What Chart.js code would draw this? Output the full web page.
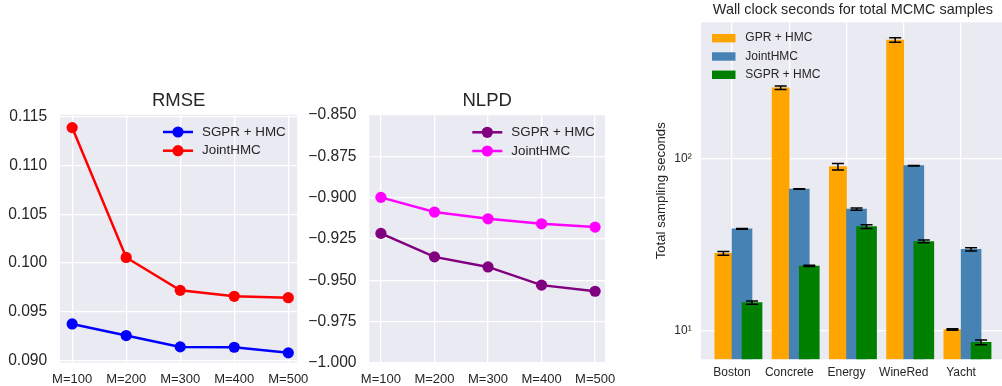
<!DOCTYPE html>
<html>
<head>
<meta charset="utf-8">
<script src="https://cdn.jsdelivr.net/npm/chart.js@4/dist/chart.umd.min.js"></script>
<style>
  body { margin: 0; background: #fff; overflow: hidden; width: 1002px; height: 386px; position: relative; }
  canvas { position: absolute; }
</style>
</head>
<body>
<canvas id="rmse" width="320" height="306" style="left:0;top:80px"></canvas>
<canvas id="nlpd" width="320" height="306" style="left:305px;top:80px"></canvas>
<canvas id="wall" width="370" height="386" style="left:640px;top:0"></canvas>
<script>
// inducing points
const mLabels = ['M=100', 'M=200', 'M=300', 'M=400', 'M=500'];

const rmseSgpr = [0.09377, 0.09258, 0.09142, 0.09138, 0.09081];
const rmseJoint = [0.11388, 0.10058, 0.09721, 0.09660, 0.09646];
const rmseTicks = [0.090, 0.095, 0.100, 0.105, 0.110, 0.115];

const nlpdSgpr = [-0.9216, -0.9358, -0.9419, -0.9529, -0.9566];
const nlpdJoint = [-0.8998, -0.9087, -0.9128, -0.9158, -0.9178];
const nlpdTicks = [-1.000, -0.975, -0.950, -0.925, -0.900, -0.875, -0.850];

// wall clock
const datasetNames = ['Boston', 'Concrete', 'Energy', 'WineRed', 'Yacht'];
const gprSecs = [28.2, 256, 89.4, 484, 10.2];
const gprErr = [0.7, 6, 3.8, 15, 0.1];
const jointSecs = [39.0, 66.4, 50.8, 90.6, 29.7];
const jointErr = [0.2, 0.3, 0.8, 0.3, 0.65];
const sgprSecs = [14.6, 23.8, 40.2, 33.0, 8.6];
const sgprErr = [0.3, 0.2, 1.0, 0.6, 0.26];
const logTicks = [10, 100];

const FONT = "'Liberation Sans', Arial, sans-serif";
const INK = '#262626';

const axesBg = {
    id: 'axesBg',
    beforeDraw(chart) {
        const { ctx, chartArea: a } = chart;
        ctx.save();
        ctx.fillStyle = '#eaeaf2';
        ctx.fillRect(a.left, a.top, a.right - a.left, a.bottom - a.top);
        ctx.restore();
    }
};

// legend drawn inside the axes, like matplotlib does
const insideLegend = {
    id: 'insideLegend',
    afterDraw(chart, args, opts) {
        const { ctx, chartArea: a } = chart;
        ctx.save();
        ctx.font = opts.size + 'px ' + FONT;
        ctx.textBaseline = 'middle';
        chart.data.datasets.forEach((ds, i) => {
            const x = a.left + opts.x;
            const y = a.top + opts.y + i * opts.gap;
            if (opts.kind === 'line') {
                ctx.strokeStyle = ds.borderColor;
                ctx.lineWidth = ds.borderWidth;
                ctx.beginPath();
                ctx.moveTo(x, y);
                ctx.lineTo(x + opts.w, y);
                ctx.stroke();
                ctx.fillStyle = ds.borderColor;
                ctx.beginPath();
                ctx.arc(x + opts.w / 2, y, ds.pointRadius, 0, Math.PI * 2);
                ctx.fill();
            } else {
                ctx.fillStyle = ds.backgroundColor;
                ctx.fillRect(x, y - opts.h / 2, opts.w, opts.h);
            }
            ctx.fillStyle = INK;
            ctx.fillText(ds.label, x + opts.textX, y);
        });
        ctx.restore();
    }
};

const errorBars = {
    id: 'errorBars',
    afterDatasetDraw(chart, args) {
        const ds = chart.data.datasets[args.index];
        if (!ds.errors) return;
        const yScale = chart.scales.y;
        const ctx = chart.ctx;
        ctx.save();
        ctx.strokeStyle = '#000';
        ctx.lineWidth = 1.5;
        args.meta.data.forEach((bar, j) => {
            const v = ds.data[j].y;
            const e = ds.errors[j];
            const top = yScale.getPixelForValue(v + e);
            const bot = yScale.getPixelForValue(v - e);
            ctx.beginPath();
            ctx.moveTo(bar.x, top); ctx.lineTo(bar.x, bot);
            ctx.moveTo(bar.x - 6, top); ctx.lineTo(bar.x + 6, top);
            ctx.moveTo(bar.x - 6, bot); ctx.lineTo(bar.x + 6, bot);
            ctx.stroke();
        });
        ctx.restore();
    }
};

function toPoints(arr) {
    return arr.map((v, i) => ({ x: i, y: v }));
}

function lineChart(id, title, series, ticks, fmt, xr, yr, yWidth, top) {
    return new Chart(document.getElementById(id), {
        type: 'line',
        data: {
            datasets: series.map(s => ({
                label: s.label,
                data: toPoints(s.values),
                borderColor: s.color,
                backgroundColor: s.color,
                pointBackgroundColor: s.color,
                pointBorderWidth: 0,
                pointRadius: 5.6,
                borderWidth: 2.5,
                tension: 0
            }))
        },
        options: {
            responsive: false,
            animation: false,
            events: [],
            layout: { padding: { left: 0, right: 320 - yWidth - 237.2, top: 0, bottom: 0 } },
            plugins: {
                legend: { display: false },
                tooltip: { enabled: false },
                title: {
                    display: true, text: title, color: INK, fullSize: false,
                    font: { family: FONT, size: 18.5, weight: 'normal' },
                    padding: { top: 9.4, bottom: top - 9.4 - 22.2 }
                },
                insideLegend: { kind: 'line', x: 103, y: 17.3, gap: 18.7, w: 30, textX: 39, size: 13.4 }
            },
            scales: {
                x: {
                    type: 'linear', min: xr[0], max: xr[1],
                    afterBuildTicks: s => { s.ticks = mLabels.map((_, i) => ({ value: i })); },
                    ticks: { callback: v => mLabels[v], color: INK, font: { family: FONT, size: 13 }, padding: 9, maxRotation: 0, autoSkip: false },
                    grid: { color: '#ffffff', lineWidth: 1.3, drawTicks: false },
                    border: { display: false },
                    afterFit: s => { s.height = 306 - top - 248; }
                },
                y: {
                    type: 'linear', min: yr[0], max: yr[1],
                    afterBuildTicks: s => { s.ticks = ticks.map(v => ({ value: v })); },
                    ticks: { callback: fmt, color: INK, font: { family: FONT, size: 15.6 }, padding: 12.8 },
                    grid: { color: '#ffffff', lineWidth: 1.3, drawTicks: false },
                    border: { display: false },
                    afterFit: s => { s.width = yWidth; }
                }
            }
        },
        plugins: [axesBg, insideLegend]
    });
}

lineChart('rmse', 'RMSE', [
    { label: 'SGPR + HMC', values: rmseSgpr, color: '#0000ff' },
    { label: 'JointHMC', values: rmseJoint, color: '#ff0000' }
], rmseTicks, v => v.toFixed(3), [-0.225, 4.165], [0.0898, 0.1152], 60, 34.7);

lineChart('nlpd', 'NLPD', [
    { label: 'SGPR + HMC', values: nlpdSgpr, color: '#800080' },
    { label: 'JointHMC', values: nlpdJoint, color: '#ff00ff' }
], nlpdTicks, v => (v < 0 ? '\u2212' : '') + Math.abs(v).toFixed(3), [-0.217, 4.186], [-1.0, -0.85], 64.3, 35);

const sup = { 0: '\u2070', 1: '\u00b9', 2: '\u00b2', 3: '\u00b3' };

function barSet(label, values, errs, color, shift, width, order) {
    return {
        label: label,
        data: values.map((v, i) => ({ x: i + shift, y: v })),
        errors: errs,
        backgroundColor: color,
        borderWidth: 0,
        barThickness: width,
        grouped: false,
        order: order
    };
}

new Chart(document.getElementById('wall'), {
    type: 'bar',
    data: {
        datasets: [
            barSet('GPR + HMC', gprSecs, gprErr, '#ffa500', -0.15, 17.2, 3),
            barSet('JointHMC', jointSecs, jointErr, '#4682b4', 0.175, 20, 2),
            barSet('SGPR + HMC', sgprSecs, sgprErr, '#008000', 0.35, 20, 1)
        ]
    },
    options: {
        responsive: false,
        animation: false,
        events: [],
        layout: { padding: { left: 0, right: 5.1, top: 0, bottom: 0 } },
        plugins: {
            legend: { display: false },
            tooltip: { enabled: false },
            title: {
                display: true, text: 'Wall clock seconds for total MCMC samples', color: INK, fullSize: false,
                font: { family: FONT, size: 14.4, weight: 'normal' },
                padding: { top: 0.9, bottom: 4.1 }
            },
            insideLegend: { kind: 'box', x: 11, y: 15.9, gap: 18.3, w: 23.5, h: 8.4, textX: 33.3, size: 12 }
        },
        scales: {
            x: {
                type: 'linear', min: -0.541, max: 4.766, offset: false,
                afterBuildTicks: s => { s.ticks = datasetNames.map((_, i) => ({ value: i })); },
                ticks: { callback: v => datasetNames[v], color: INK, font: { family: FONT, size: 12 }, padding: 6.3, maxRotation: 0, autoSkip: false },
                grid: { color: '#ffffff', lineWidth: 1.3, drawTicks: false, offset: false },
                border: { display: false },
                afterFit: s => { s.height = 26.7; }
            },
            y: {
                type: 'logarithmic', min: 6.86, max: 613,
                afterBuildTicks: s => { s.ticks = logTicks.map(v => ({ value: v })); },
                ticks: { callback: v => '10' + sup[Math.round(Math.log10(v))], color: INK, font: { family: FONT, size: 12 }, padding: 9.3 },
                grid: { color: '#ffffff', lineWidth: 1.3, drawTicks: false },
                border: { display: false },
                title: {
                    display: true, text: 'Total sampling seconds', color: INK,
                    font: { family: FONT, size: 13.2 }, padding: { top: 13.8, bottom: 0 }
                },
                afterFit: s => { s.width = 61; }
            }
        }
    },
    plugins: [axesBg, insideLegend, errorBars]
});
</script>
</body>
</html>
